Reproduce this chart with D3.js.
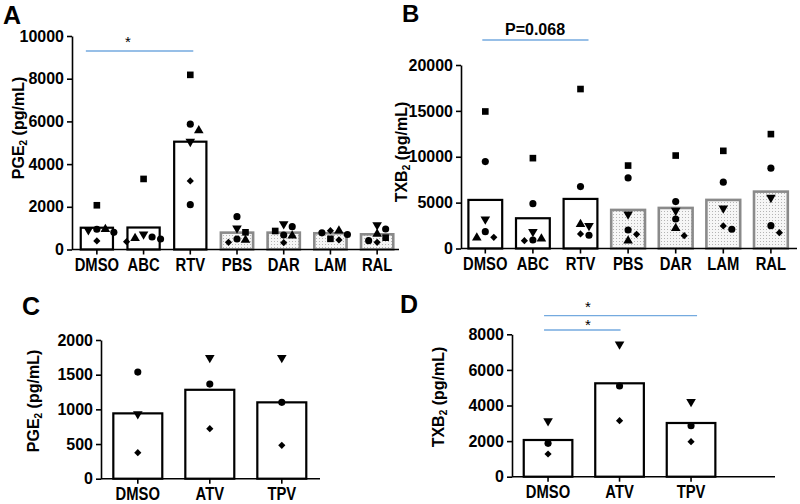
<!DOCTYPE html>
<html><head><meta charset="utf-8">
<script src="https://cdn.jsdelivr.net/npm/d3@7"></script>
<style>
body{margin:0;background:#fff}
text{font-family:"Liberation Sans",Arial,sans-serif;font-weight:bold;fill:#000}
</style>
</head><body>
<svg id="chart" width="800" height="504"></svg>
<script>
// ---------- DATA ----------
const catsAB = ["DMSO","ABC","RTV","PBS","DAR","LAM","RAL"];
const fillAB = ["plain","plain","plain","dot","dot","dot","dot"];
const catsCD = ["DMSO","ATV","TPV"];
const fillCD = ["plain","plain","plain"];

const ticksA = [0,2000,4000,6000,8000,10000];
const ticksB = [0,5000,10000,15000,20000];
const ticksC = [0,500,1000,1500,2000];
const ticksD = [0,2000,4000,6000,8000];

// bar heights (group means)
const barsA = [1020,1030,5050,790,790,760,712];
const barsB = [5295,3297,5404,4203,4421,5295,6200];
const barsC = [942,1282,1101];
const barsD = [2062,5247,3017];

// individual donors: values and symbol codes (s square, c circle, u triangle up, d triangle down, m diamond)
const valsA = [
  [2072,950,805,915,950,400],
  [3305,712,586,367,492,525],
  [8180,5870,5570,5054,3211,2100],
  [1538,993,805,492,337,445],
  [1069,680,867,1195,320,647],
  [700,880,880,780,450,500],
  [1148,961,727,554,337,413]
];
const symsA = [
  ["s","c","c","d","u","m"],
  ["s","d","c","m","c","u"],
  ["s","c","u","d","m","c"],
  ["c","d","s","c","m","u"],
  ["c","c","s","d","m","u"],
  ["c","m","u","c","m","s"],
  ["d","c","u","s","m","c"]
];
const valsB = [
  [14935,9476,3188,1834,1179,1223],
  [9847,4891,1834,1070,852,928],
  [17380,6747,2642,2489,1441,1583],
  [9039,7697,3733,2020,1550,852],
  [10131,5109,4127,3221,2205,1397],
  [10644,7227,4389,2096,2456],
  [12467,8755,5546,2489,1725]
];
const symsB = [
  ["s","c","d","c","u","m"],
  ["s","c","d","u","m","c"],
  ["s","c","u","d","c","m"],
  ["s","c","d","c","m","u"],
  ["s","c","d","c","u","m"],
  ["s","c","d","c","m"],
  ["s","c","d","c","m"]
];
const valsC = [[1537,932,375],[1744,1364,721],[1744,1101,481]];
const symsC = [["c","d","m"],["d","c","m"],["d","c","m"]];
const valsD = [[3129,1876,1275],[7438,5096,3146],[4213,2865,1966]];
const symsD = [["d","c","m"],["d","c","m"],["d","c","m"]];

// ---------- DRAW ----------
const svg = d3.select("#chart");
const defs = svg.append("defs");
const pat = defs.append("pattern").attr("id","dots").attr("patternUnits","userSpaceOnUse")
  .attr("width",3).attr("height",3);
pat.append("rect").attr("width",3).attr("height",3).attr("fill","#f6f6f6");
pat.append("rect").attr("x",1).attr("y",1).attr("width",1).attr("height",1).attr("fill","#b4b4b4");

const symType = {s:d3.symbolSquare, c:d3.symbolCircle, u:d3.symbolTriangle, d:d3.symbolTriangle, m:d3.symbolSquare};
const symSize = {s:44, c:40, u:40, d:40, m:26};
const symRot = {s:0, c:0, u:0, d:180, m:45};

function dodge(vals, y, step, r) {
  const idx = vals.map((v,i)=>i).sort((a,b)=>vals[b]-vals[a]);
  const placed = [], off = new Array(vals.length).fill(0);
  for (const i of idx) {
    const py = y(vals[i]);
    for (let k=0;k<30;k++) {
      const o = k===0 ? 0 : (k%2 ? 1 : -1) * Math.ceil(k/2) * step;
      if (placed.every(p => Math.abs(p.y-py) >= r || Math.abs(p.x-o) >= r)) {
        off[i] = o; placed.push({x:o, y:py}); break;
      }
    }
  }
  return off;
}

function panel(o) {
  const g = svg.append("g");
  const x = d3.scaleBand().domain(o.cats).range(o.xr).paddingInner(o.pad).paddingOuter(o.pad/2);
  const y = d3.scaleLinear().domain([0, o.ymax]).range(o.yr);
  const bw = x.bandwidth();
  const cx = c => x(c) + bw/2;

  // bars
  g.selectAll("rect.bar").data(o.cats).join("rect")
    .attr("x", c => x(c)).attr("width", bw)
    .attr("y", (c,i) => y(o.bars[i])).attr("height", (c,i) => y(0) - y(o.bars[i]))
    .attr("fill", (c,i) => o.fills[i]==="dot" ? "url(#dots)" : "#fff")
    .attr("stroke", (c,i) => o.fills[i]==="dot" ? "#8a8a8a" : "#000")
    .attr("stroke-width", (c,i) => o.fills[i]==="dot" ? 2.6 : 2.2);

  // points
  o.cats.forEach((c,i) => {
    const vals = o.vals[i], syms = o.syms[i];
    const off = dodge(vals, y, 8.5, 7.5);
    g.selectAll(null).data(vals).join("path")
      .attr("d", (v,j) => d3.symbol().type(symType[syms[j]]).size(symSize[syms[j]])())
      .attr("transform", (v,j) => `translate(${cx(c)+off[j]},${y(v)}) rotate(${symRot[syms[j]]})`)
      .attr("fill","#000");
  });

  // y axis
  const ya = g.append("g").attr("transform", `translate(${o.ax},0)`)
    .call(d3.axisLeft(y).tickValues(o.ticks).tickSize(5).tickSizeOuter(0).tickPadding(3).tickFormat(d3.format("d")));
  ya.selectAll("text").style("font-size","16px");
  ya.selectAll("line,path").attr("stroke","#000").attr("stroke-width",1.6);

  // x axis
  const xa = g.append("g").attr("transform", `translate(0,${y(0)})`)
    .call(d3.axisBottom(x).tickSize(5).tickSizeOuter(0).tickPadding(3));
  xa.select(".domain").remove();
  xa.append("line").attr("x1", o.ax).attr("x2", o.xend).attr("stroke","#000").attr("stroke-width",1.6);
  xa.selectAll("text").style("font-size","18.5px").attr("transform","scale(0.8,1)");
  xa.selectAll(".tick line").attr("stroke","#000").attr("stroke-width",1.6);

  // y title
  const t = g.append("text").attr("transform", `translate(${o.tx},${o.ty}) rotate(-90)`)
    .attr("text-anchor","middle").style("font-size","16px");
  t.append("tspan").text(o.title[0]);
  t.append("tspan").text(o.title[1]).style("font-size","10px").attr("dy",3);
  t.append("tspan").text(o.title[2]).attr("dy",-3);

  // panel letter
  svg.append("text").attr("x", o.lx).attr("y", o.ly).style("font-size", o.lf + "px").text(o.letter);
  return {x, y, cx};
}

const A = panel({cats:catsAB, fills:fillAB, bars:barsA, vals:valsA, syms:symsA, ticks:ticksA, ymax:10000,
  xr:[73.5,400.5], pad:0.31, yr:[249.5,36], ax:72, xend:399,
  title:["PGE","2"," (pg/mL)"], tx:24, ty:128, letter:"A", lx:3, ly:24, lf:25});
const B = panel({cats:catsAB, fills:fillAB, bars:barsB, vals:valsB, syms:symsB, ticks:ticksB, ymax:20000,
  xr:[461.5,794.7], pad:0.29, yr:[248.5,65], ax:461, xend:797,
  title:["TXB","2"," (pg/mL)"], tx:407, ty:152, letter:"B", lx:402, ly:22, lf:24});
const C = panel({cats:catsCD, fills:fillCD, bars:barsC, vals:valsC, syms:symsC, ticks:ticksC, ymax:2000,
  xr:[101.8,317.8], pad:0.32, yr:[478.7,340], ax:101, xend:320,
  title:["PGE","2"," (pg/mL)"], tx:39, ty:401, letter:"C", lx:22, ly:315, lf:25});
const D = panel({cats:catsCD, fills:fillCD, bars:barsD, vals:valsD, syms:symsD, ticks:ticksD, ymax:8000,
  xr:[512.3,726.8], pad:0.32, yr:[476.7,334.3], ax:512, xend:775,
  title:["TXB","2"," (pg/mL)"], tx:444, ty:397, letter:"D", lx:400, ly:313, lf:25});

// significance annotations
const sig = "#74aadf";
function bracket(x1, x2, yy) {
  svg.append("line").attr("x1",x1).attr("x2",x2).attr("y1",yy).attr("y2",yy)
    .attr("stroke",sig).attr("stroke-width",1.3);
}
function star(xx, yy) {
  svg.append("text").attr("x",xx).attr("y",yy).attr("text-anchor","middle")
    .style("font-size","15px").style("font-weight","normal").text("*");
}
bracket(A.cx("DMSO")-11, A.cx("RTV")+3, 51);
star(128, 47);
bracket(B.cx("DMSO")-3, B.cx("RTV")+8, 40);
svg.append("text").attr("x",535).attr("y",35).attr("text-anchor","middle").style("font-size","16px").text("P=0.068");
bracket(D.cx("DMSO")-4, D.cx("TPV")+6, 315.7);
star(588, 312);
bracket(D.cx("DMSO")-4, D.cx("ATV")+1, 330);
star(588, 330);
</script>
</body></html>
